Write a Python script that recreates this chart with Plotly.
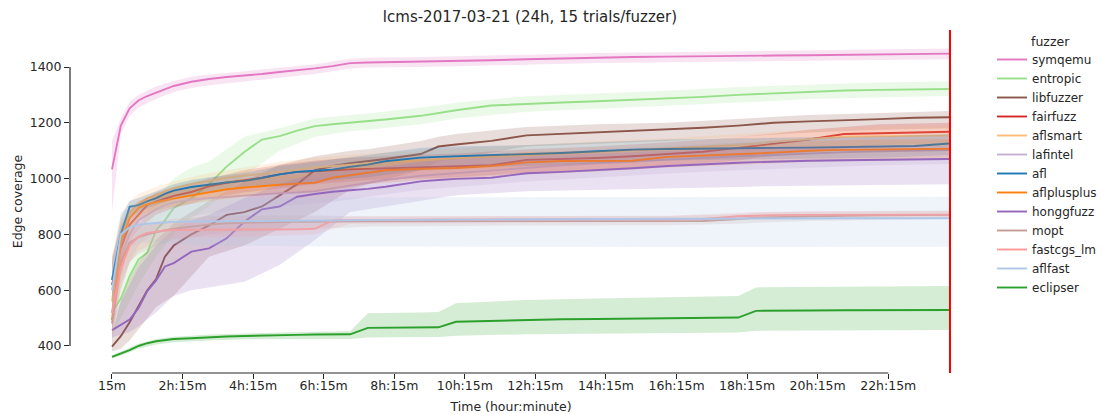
import plotly.graph_objects as go

# ---- time grids (hours) ----
T = [0.25, 0.5, 0.75, 1.0, 1.25, 1.5, 1.75, 2.0, 2.5, 3.0, 3.5, 4.0, 4.5, 5.0, 5.5, 6.0, 6.5, 7.0, 7.5, 8.0,
     9.0, 9.5, 10.0, 11.0, 12.0, 13.0, 14.0, 15.0, 16.0, 17.0, 18.0, 18.5, 19.0, 20.0, 21.0, 22.0, 23.0, 24.0]
B = [0.25, 0.5, 0.75, 1.0, 1.5, 2.0, 2.5, 3.0, 4.0, 5.0, 6.0, 7.0, 7.5, 9.0, 9.5, 10.0, 12.0, 14.0, 16.0, 18.0,
     18.5, 20.0, 22.0, 24.0]

tick_vals = [0.25, 2.25, 4.25, 6.25, 8.25, 10.25, 12.25, 14.25, 16.25, 18.25, 20.25, 22.25]
tick_text = ["15m", "2h:15m", "4h:15m", "6h:15m", "8h:15m", "10h:15m", "12h:15m", "14h:15m",
             "16h:15m", "18h:15m", "20h:15m", "22h:15m"]
y_ticks = [400, 600, 800, 1000, 1200, 1400]

fuzzers = ["symqemu", "entropic", "libfuzzer", "fairfuzz", "aflsmart", "lafintel", "afl",
           "aflplusplus", "honggfuzz", "mopt", "fastcgs_lm", "aflfast", "eclipser"]
colors = ["#e377c2", "#98df8a", "#8c564b", "#d62728", "#ffbb78", "#c5b0d5", "#1f77b4",
          "#ff7f0e", "#9467bd", "#c49c94", "#ff9896", "#aec7e8", "#2ca02c"]

# ---- medians on T ----
symqemu_med = [1033, 1190, 1252, 1280, 1296, 1308, 1320, 1332, 1347, 1357, 1364, 1369, 1375, 1382, 1388, 1395, 1403, 1414, 1416, 1417,
               1419, 1420, 1421, 1424, 1428, 1431, 1433, 1436, 1437, 1439, 1440, 1440, 1441, 1442, 1444, 1446, 1447, 1448]
entropic_med = [520, 570, 650, 710, 735, 815, 850, 895, 930, 980, 1043, 1095, 1140, 1152, 1172, 1188, 1195, 1200, 1205, 1212,
                1225, 1235, 1245, 1262, 1268, 1273, 1277, 1282, 1287, 1293, 1300, 1303, 1306, 1311, 1316, 1318, 1320, 1321]
libfuzzer_med = [398, 435, 485, 545, 600, 640, 720, 760, 800, 832, 870, 880, 900, 940, 980, 1030, 1045, 1055, 1062, 1070,
                 1088, 1115, 1122, 1135, 1155, 1160, 1166, 1171, 1175, 1182, 1190, 1195, 1200, 1205, 1208, 1213, 1218, 1220]
fairfuzz_med = [619, 750, 835, 872, 905, 918, 928, 938, 952, 972, 985, 993, 1003, 1015, 1024, 1026, 1030, 1033, 1035, 1037,
                1040, 1042, 1043, 1048, 1067, 1070, 1074, 1080, 1087, 1096, 1110, 1118, 1125, 1140, 1160, 1163, 1166, 1168]
aflsmart_med = [560, 800, 880, 910, 930, 942, 955, 965, 980, 992, 1003, 1010, 1017, 1023, 1032, 1040, 1045, 1050, 1055, 1060,
                1066, 1070, 1073, 1078, 1084, 1090, 1096, 1100, 1108, 1115, 1122, 1126, 1132, 1140, 1150, 1152, 1153, 1154]
lafintel_med = [520, 720, 800, 850, 870, 890, 905, 915, 925, 930, 935, 940, 945, 948, 950, 955, 965, 975, 985, 995,
                1010, 1015, 1020, 1030, 1040, 1048, 1055, 1060, 1068, 1075, 1080, 1082, 1085, 1090, 1095, 1098, 1100, 1102]
afl_med = [637, 800, 899, 905, 918, 930, 945, 957, 970, 979, 986, 992, 1002, 1015, 1024, 1028, 1032, 1042, 1050, 1062,
           1075, 1078, 1080, 1084, 1087, 1092, 1098, 1104, 1106, 1108, 1109, 1110, 1110, 1111, 1113, 1115, 1117, 1126]
aflplusplus_med = [493, 770, 858, 895, 908, 915, 921, 928, 940, 952, 962, 968, 974, 978, 982, 985, 1003, 1012, 1022, 1030,
                   1035, 1037, 1038, 1045, 1058, 1063, 1064, 1064, 1078, 1082, 1088, 1090, 1093, 1100, 1103, 1105, 1106, 1107]
honggfuzz_med = [457, 475, 495, 535, 597, 635, 685, 697, 738, 750, 786, 845, 890, 900, 935, 945, 953, 958, 963, 971,
                 990, 995, 999, 1003, 1019, 1024, 1030, 1037, 1045, 1052, 1057, 1059, 1061, 1064, 1066, 1068, 1069, 1070]
mopt_med = [480, 700, 770, 790, 800, 808, 815, 820, 828, 835, 840, 842, 843, 844, 845, 846, 846, 847, 847, 847,
            847, 847, 847, 847, 847, 847, 848, 848, 848, 848, 855, 860, 862, 865, 867, 868, 869, 870]
fastcgs_lm_med = [518, 680, 760, 792, 805, 810, 814, 816, 816, 816, 816, 817, 817, 817, 818, 820, 850, 851, 852, 852,
                  853, 853, 853, 853, 854, 854, 854, 855, 855, 855, 865, 868, 869, 870, 870, 871, 871, 871]
aflfast_med = [600, 800, 825, 835, 838, 840, 842, 845, 846, 847, 847, 848, 848, 849, 849, 850, 850, 851, 851, 852,
               852, 853, 853, 853, 854, 854, 855, 855, 856, 856, 857, 857, 857, 857, 858, 858, 858, 858]
eclipser_med = [361, 372, 385, 400, 410, 417, 421, 425, 428, 432, 434, 436, 438, 439, 440, 441, 441, 442, 465, 465,
                466, 467, 487, 490, 494, 496, 497, 498, 499, 500, 502, 526, 527, 527, 528, 528, 529, 529]

# ---- confidence bands on B ----
symqemu_lo = [880, 1160, 1225, 1255, 1285, 1310, 1325, 1335, 1350, 1362, 1375, 1395, 1398, 1400, 1401, 1402, 1408, 1414, 1417, 1420, 1420, 1422, 1426, 1428]
symqemu_hi = [1135, 1215, 1275, 1300, 1330, 1350, 1365, 1373, 1385, 1397, 1410, 1430, 1433, 1436, 1437, 1438, 1444, 1450, 1453, 1456, 1456, 1459, 1463, 1466]
entropic_lo = [440, 500, 560, 620, 720, 800, 860, 900, 1010, 1100, 1150, 1170, 1175, 1195, 1205, 1215, 1240, 1250, 1260, 1272, 1275, 1285, 1292, 1296]
entropic_hi = [600, 680, 760, 820, 930, 1000, 1040, 1060, 1150, 1180, 1215, 1228, 1233, 1255, 1262, 1272, 1295, 1305, 1315, 1328, 1330, 1338, 1344, 1348]
libfuzzer_lo = [380, 390, 420, 460, 540, 580, 650, 720, 760, 820, 880, 960, 980, 1030, 1060, 1070, 1115, 1125, 1135, 1150, 1155, 1165, 1175, 1180]
libfuzzer_hi = [440, 560, 640, 700, 780, 840, 880, 920, 990, 1050, 1080, 1100, 1105, 1135, 1150, 1160, 1185, 1195, 1200, 1215, 1218, 1228, 1235, 1242]
fairfuzz_lo = [480, 650, 770, 820, 870, 895, 910, 930, 950, 965, 980, 990, 995, 1000, 1002, 1005, 1020, 1030, 1045, 1065, 1075, 1095, 1120, 1125]
fairfuzz_hi = [720, 830, 880, 910, 950, 970, 985, 1000, 1030, 1050, 1065, 1075, 1078, 1085, 1088, 1090, 1105, 1115, 1130, 1150, 1155, 1175, 1195, 1200]
aflsmart_lo = [470, 700, 820, 860, 900, 925, 945, 960, 975, 990, 1000, 1010, 1015, 1025, 1028, 1030, 1040, 1050, 1065, 1080, 1085, 1100, 1110, 1115]
aflsmart_hi = [720, 870, 920, 945, 970, 990, 1005, 1020, 1040, 1060, 1075, 1085, 1090, 1100, 1105, 1110, 1120, 1135, 1145, 1160, 1165, 1175, 1188, 1190]
lafintel_lo = [460, 600, 700, 760, 820, 850, 865, 875, 890, 900, 910, 925, 935, 960, 965, 970, 990, 1005, 1018, 1030, 1032, 1040, 1048, 1052]
lafintel_hi = [600, 800, 860, 900, 935, 955, 965, 975, 990, 1000, 1010, 1025, 1035, 1060, 1065, 1070, 1090, 1105, 1118, 1130, 1132, 1140, 1148, 1152]
afl_lo = [560, 740, 860, 880, 905, 925, 940, 950, 965, 980, 990, 1000, 1005, 1030, 1035, 1040, 1045, 1055, 1065, 1070, 1070, 1072, 1075, 1085]
afl_hi = [700, 860, 920, 930, 955, 980, 995, 1005, 1020, 1045, 1060, 1075, 1085, 1110, 1112, 1115, 1120, 1130, 1140, 1145, 1145, 1148, 1152, 1160]
aflplusplus_lo = [440, 680, 800, 850, 885, 900, 910, 920, 935, 945, 950, 970, 980, 995, 998, 1000, 1015, 1025, 1040, 1050, 1052, 1060, 1065, 1068]
aflplusplus_hi = [560, 840, 890, 920, 940, 955, 965, 980, 1000, 1010, 1020, 1045, 1055, 1070, 1072, 1075, 1095, 1100, 1112, 1120, 1122, 1135, 1140, 1142]
honggfuzz_lo = [430, 440, 450, 470, 520, 580, 600, 610, 630, 690, 780, 880, 890, 920, 930, 940, 955, 960, 965, 970, 972, 975, 978, 980]
honggfuzz_hi = [500, 560, 620, 680, 760, 820, 850, 870, 930, 980, 1020, 1030, 1035, 1060, 1065, 1070, 1080, 1090, 1100, 1110, 1112, 1115, 1118, 1120]
mopt_lo = [420, 620, 700, 730, 760, 780, 790, 800, 810, 815, 820, 825, 828, 830, 830, 830, 832, 833, 833, 838, 842, 848, 852, 855]
mopt_hi = [560, 770, 810, 830, 845, 855, 860, 865, 868, 868, 868, 865, 864, 864, 864, 864, 864, 865, 866, 872, 878, 882, 884, 886]
fastcgs_lm_lo = [440, 600, 700, 740, 775, 785, 790, 790, 792, 795, 800, 838, 840, 841, 841, 842, 842, 843, 843, 852, 856, 858, 858, 858]
fastcgs_lm_hi = [600, 750, 800, 830, 840, 845, 845, 845, 845, 845, 845, 864, 865, 866, 866, 866, 866, 867, 867, 878, 880, 882, 884, 884]
aflfast_lo = [500, 720, 760, 770, 770, 765, 762, 760, 758, 758, 757, 757, 757, 757, 756, 756, 756, 755, 755, 755, 755, 755, 755, 756]
aflfast_hi = [700, 880, 900, 915, 925, 928, 930, 930, 930, 930, 932, 932, 932, 933, 933, 933, 934, 934, 934, 935, 935, 935, 935, 935]
eclipser_lo = [355, 365, 378, 390, 405, 413, 417, 420, 424, 425, 425, 425, 430, 432, 432, 437, 442, 444, 446, 448, 455, 456, 457, 457]
eclipser_hi = [367, 380, 393, 408, 425, 433, 437, 441, 445, 449, 451, 453, 517, 520, 522, 553, 565, 570, 575, 579, 610, 612, 614, 615]

medians = [symqemu_med, entropic_med, libfuzzer_med, fairfuzz_med, aflsmart_med, lafintel_med, afl_med,
           aflplusplus_med, honggfuzz_med, mopt_med, fastcgs_lm_med, aflfast_med, eclipser_med]
lows = [symqemu_lo, entropic_lo, libfuzzer_lo, fairfuzz_lo, aflsmart_lo, lafintel_lo, afl_lo,
        aflplusplus_lo, honggfuzz_lo, mopt_lo, fastcgs_lm_lo, aflfast_lo, eclipser_lo]
highs = [symqemu_hi, entropic_hi, libfuzzer_hi, fairfuzz_hi, aflsmart_hi, lafintel_hi, afl_hi,
         aflplusplus_hi, honggfuzz_hi, mopt_hi, fastcgs_lm_hi, aflfast_hi, eclipser_hi]


def rgba(hex_color, a):
    h = hex_color.lstrip("#")
    r, g, b = int(h[0:2], 16), int(h[2:4], 16), int(h[4:6], 16)
    return f"rgba({r},{g},{b},{a})"


W, H = 1103, 414
ML, MR, MT, MB = 70, 151, 30, 41
PW, PH = W - ML - MR, H - MT - MB

fig = go.Figure()

for name, col, med, lo, hi in zip(fuzzers, colors, medians, lows, highs):
    fig.add_trace(go.Scatter(x=B + B[::-1], y=hi + lo[::-1], fill="toself",
                             fillcolor=rgba(col, 0.2), line=dict(width=0),
                             mode="lines", showlegend=False, hoverinfo="skip"))
    fig.add_trace(go.Scatter(x=T, y=med, mode="lines", name=name,
                             line=dict(color=col, width=1.9)))

# red vertical line at 24h
fig.add_shape(type="line", xref="x", yref="paper", x0=24.0, x1=24.0, y0=0, y1=1,
              line=dict(color="#ff0000", width=2))
# trimmed spines
fig.add_shape(type="line", xref="x", yref="paper", x0=tick_vals[0], x1=tick_vals[-1], y0=0, y1=0,
              line=dict(color="#262626", width=1.2))
fig.add_shape(type="line", xref="paper", yref="y", x0=0, x1=0, y0=y_ticks[0], y1=y_ticks[-1],
              line=dict(color="#262626", width=1.2))

# legend title (seaborn style: aligned with the entry labels)
fig.add_annotation(text="fuzzer", xref="paper", yref="paper",
                   x=(1029 - ML) / PW, y=1 - (42 - MT) / PH, xanchor="left", yanchor="middle",
                   showarrow=False, font=dict(size=12.5, color="#262626"))

font_family = "DejaVu Sans"
fig.update_layout(
    width=W, height=H,
    margin=dict(l=ML, r=MR, t=MT, b=MB, autoexpand=False),
    paper_bgcolor="white", plot_bgcolor="white",
    font=dict(family=font_family, size=12.5, color="#262626"),
    title=dict(text="lcms-2017-03-21 (24h, 15 trials/fuzzer)", x=530 / W, xref="container",
               xanchor="center", y=1 - 17 / H, yref="container", yanchor="middle",
               font=dict(size=15, color="#262626")),
    showlegend=True,
    legend=dict(x=(992 - ML) / PW, xanchor="left", y=1 - (45 - MT) / PH, yanchor="top",
                bgcolor="rgba(0,0,0,0)", font=dict(size=12, color="#262626"), tracegroupgap=0),
    xaxis=dict(range=[-0.94, 24.057], tickmode="array", tickvals=tick_vals, ticktext=tick_text,
               ticks="outside", ticklen=5, tickcolor="#262626", showgrid=False, zeroline=False,
               showline=False, ticklabelstandoff=-4,
               title=dict(text="Time (hour:minute)", standoff=11, font=dict(size=12.5))),
    yaxis=dict(range=[303.2, 1532.6], tickmode="array", tickvals=y_ticks,
               ticks="outside", ticklen=5, tickcolor="#262626", showgrid=False, zeroline=False,
               showline=False,
               title=dict(text="Edge coverage", standoff=4, font=dict(size=12.5))),
)

fig.write_html("out.html", config={"displayModeBar": False},
               post_script="document.body.style.margin='0px';document.body.style.overflow='hidden';")
